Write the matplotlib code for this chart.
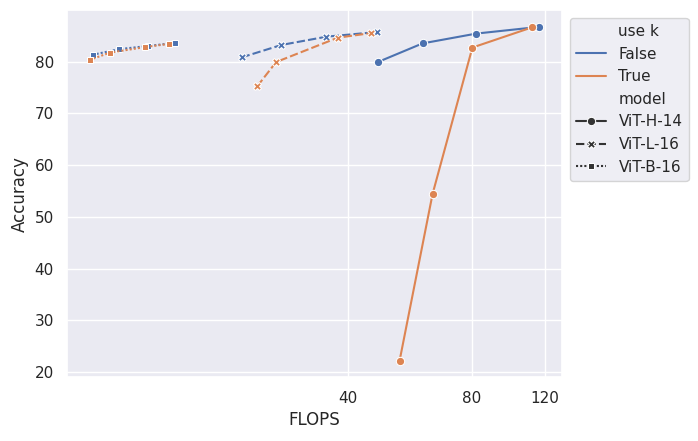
import numpy as np
import pandas as pd
import matplotlib
matplotlib.use("Agg")
import matplotlib.pyplot as plt
import seaborn as sns
from matplotlib.ticker import FixedLocator, NullLocator, FixedFormatter

models = ["ViT-H-14", "ViT-L-16", "ViT-B-16"]

h14_false_flops = [47.3, 60.7, 82.0, 116.6]
h14_false_acc = [79.9, 83.5, 85.4, 86.7]
h14_true_flops = [53.4, 64.2, 80.2, 111.9]
h14_true_acc = [22.2, 54.4, 82.7, 86.6]

l16_false_flops = [22.1, 27.6, 35.5, 47.0]
l16_false_acc = [80.8, 83.2, 84.8, 85.7]
l16_true_flops = [24.1, 26.8, 37.8, 45.6]
l16_true_acc = [75.2, 79.9, 84.6, 85.5]

b16_false_flops = [9.61, 11.17, 13.1, 15.27]
b16_false_acc = [81.3, 82.4, 83.0, 83.6]
b16_true_flops = [9.45, 10.57, 12.9, 14.7]
b16_true_acc = [80.3, 81.7, 82.8, 83.4]

xticks = [40, 80, 120]

rows = []
for model, fl_f, ac_f, fl_t, ac_t in [
    ("ViT-H-14", h14_false_flops, h14_false_acc, h14_true_flops, h14_true_acc),
    ("ViT-L-16", l16_false_flops, l16_false_acc, l16_true_flops, l16_true_acc),
    ("ViT-B-16", b16_false_flops, b16_false_acc, b16_true_flops, b16_true_acc),
]:
    for f, a in zip(fl_f, ac_f):
        rows.append({"FLOPS": f, "Accuracy": a, "use k": False, "model": model})
    for f, a in zip(fl_t, ac_t):
        rows.append({"FLOPS": f, "Accuracy": a, "use k": True, "model": model})
df = pd.DataFrame(rows)

sns.set_theme()
fig, ax = plt.subplots(figsize=(6.98, 4.41), dpi=100)
sns.lineplot(data=df, x="FLOPS", y="Accuracy", hue="use k", style="model",
             style_order=models, markers=True, ax=ax, sort=True, estimator=None)
ax.set_xscale("log")
ax.xaxis.set_major_locator(FixedLocator(xticks))
ax.xaxis.set_major_formatter(FixedFormatter([str(t) for t in xticks]))
ax.xaxis.set_minor_locator(NullLocator())
sns.move_legend(ax, "upper left", bbox_to_anchor=(1, 1))
fig.subplots_adjust(left=0.096, right=0.805, top=0.977, bottom=0.144)
fig.savefig("out.png", dpi=100)
